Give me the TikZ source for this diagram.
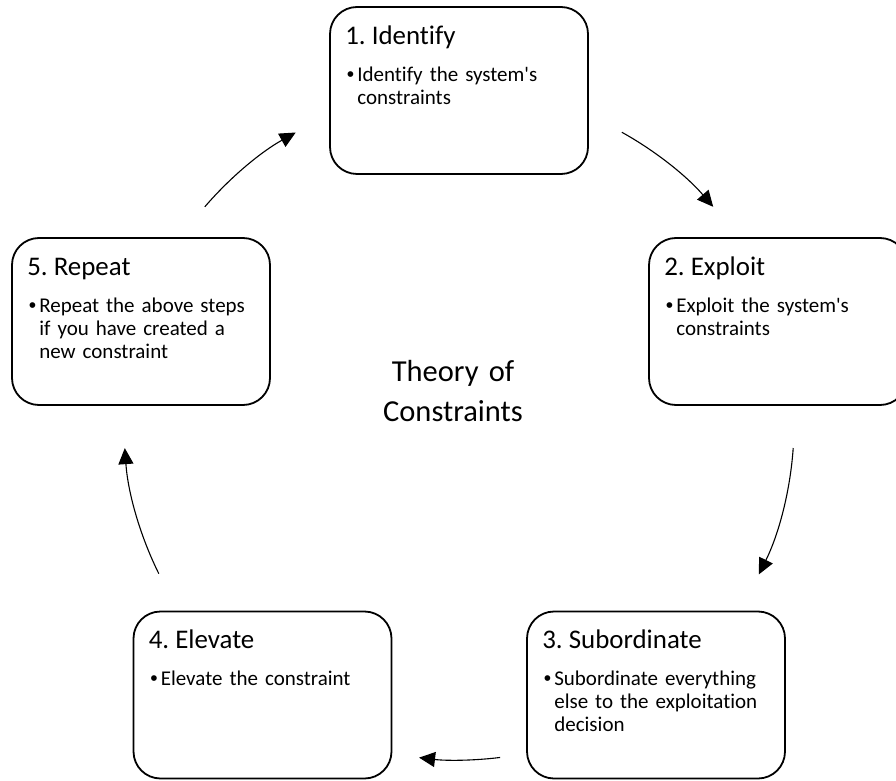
\documentclass[tikz,border=0pt]{standalone}
\usepackage{fontspec}
\setmainfont{Carlito}[Ligatures={TeXOff,NoCommon}]
\newfontfamily\bulletfont{Liberation Sans}
\frenchspacing
\usetikzlibrary{arrows.meta,calc}
\tikzset{
  stepbox/.style={draw=black, line width=1.8pt, rounded corners=27pt,
    minimum width=258pt, minimum height=167pt, inner sep=0pt, fill=white},
  steptitle/.style={anchor=base west, inner sep=0pt,
    font=\fontsize{26.9}{32}\selectfont},
  stepbullet/.style={anchor=base, inner sep=0pt,
    font=\bulletfont\fontsize{21}{23}\selectfont},
  stepbody/.style={anchor=base west, inner sep=0pt, text width=230pt,
    align=left, font=\fontsize{21}{23}\selectfont},
  hubtext/.style={anchor=base, inner sep=0pt, text width=240pt, align=center,
    font=\fontsize{30.5}{40}\selectfont},
  cyclearrow/.style={line width=1.1pt, -{Triangle[length=16pt,width=15pt]}},
}
\begin{document}
\begin{tikzpicture}[x=1pt,y=1pt]
\useasboundingbox (0,0) rectangle (896,780);
\clip (0,0) rectangle (896,780);
\fill[white] (0,0) rectangle (896,780);

% centre of the cycle
\coordinate (hub) at (459,355);
\node[hubtext] (toc) at (453,398.3) {Theory of\\Constraints};

% the five steps
\node[stepbox] (s1) at (459,689.5) {};
\node[stepbox] (s2) at (778,458.5) {};
\node[stepbox] (s3) at (656,85) {};
\node[stepbox] (s4) at (262.5,85) {};
\node[stepbox] (s5) at (141,458.5) {};

\node[steptitle] (s1t) at ($(s1.north west)+(16,-38)$) {1. Identify};
\node[stepbullet] (s1b) at ($(s1.north west)+(21.5,-75)$) {•};
\node[stepbody] (s1x) at ($(s1.north west)+(28,-75)$) {Identify the system's\\constraints};

\node[steptitle] (s2t) at ($(s2.north west)+(16,-38)$) {2. Exploit};
\node[stepbullet] (s2b) at ($(s2.north west)+(21.5,-75)$) {•};
\node[stepbody] (s2x) at ($(s2.north west)+(28,-75)$) {Exploit the system's\\constraints};

\node[steptitle] (s3t) at ($(s3.north west)+(16,-38)$) {3. Subordinate};
\node[stepbullet] (s3b) at ($(s3.north west)+(21.5,-75)$) {•};
\node[stepbody] (s3x) at ($(s3.north west)+(28,-75)$) {Subordinate everything\\else to the exploitation\\decision};

\node[steptitle] (s4t) at ($(s4.north west)+(16,-38)$) {4. Elevate};
\node[stepbullet] (s4b) at ($(s4.north west)+(21.5,-75)$) {•};
\node[stepbody] (s4x) at ($(s4.north west)+(28,-75)$) {Elevate the constraint};

\node[steptitle] (s5t) at ($(s5.north west)+(16,-38)$) {5. Repeat};
\node[stepbullet] (s5b) at ($(s5.north west)+(21.5,-75)$) {•};
\node[stepbody] (s5x) at ($(s5.north west)+(28,-75)$) {Repeat the above steps\\if you have created a\\new constraint};

% curved arrows running clockwise round the hub
\draw[cyclearrow] ($(hub)+(60.91:335)$) arc[start angle=60.91, end angle=40.64, radius=335];
\draw[cyclearrow] ($(hub)+(-3.94:335)$) arc[start angle=-3.94, end angle=-26.49, radius=335];
\draw[cyclearrow] ($(hub)+(-82.96:335)$) arc[start angle=-82.96, end angle=-96.85, radius=335];
\draw[cyclearrow] ($(hub)+(206.34:335)$) arc[start angle=206.34, end angle=183.96, radius=335];
\draw[cyclearrow] ($(hub)+(139.36:335)$) arc[start angle=139.36, end angle=119.17, radius=335];
\end{tikzpicture}
\end{document}
